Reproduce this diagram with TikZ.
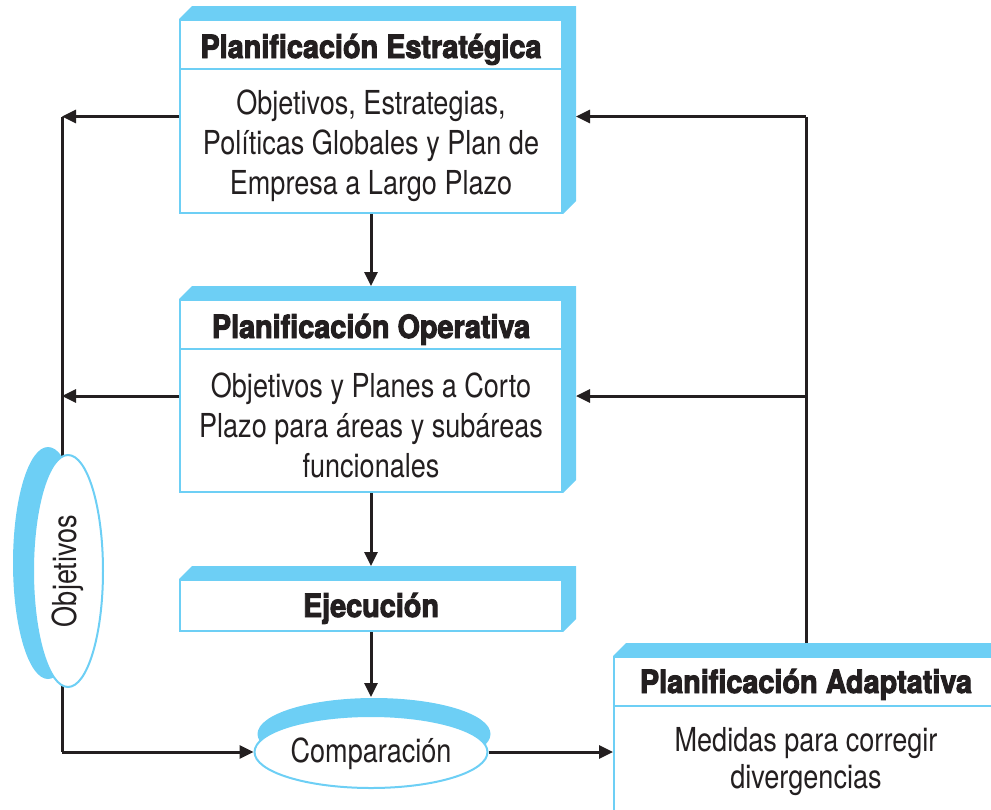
\documentclass[tikz,border=0pt]{standalone}
\usepackage{fontspec}
\setmainfont{TeX Gyre Heros}[FakeStretch=0.82]
\newfontfamily\titlefont{TeX Gyre Heros}[FakeStretch=0.90,FakeBold=3]
\usetikzlibrary{arrows.meta,shapes.geometric}
\definecolor{sky}{RGB}{109,207,245}
\definecolor{ink}{RGB}{35,31,32}
\tikzset{
  front/.style={draw=sky, line width=2pt, fill=white, inner sep=0pt},
  ttl/.style={font=\titlefont\bfseries\fontsize{32}{36}\selectfont, text=ink, anchor=base, inner sep=0pt},
  bodytxt/.style={font=\fontsize{33}{40}\selectfont, text=ink, align=center, inner sep=0pt},
  conn/.style={draw=ink, line width=3pt},
  arr/.style={conn, -{Triangle[length=14pt,width=13pt]}},
  sepline/.style={draw=sky, line width=2pt},
}
\newcommand\extrude[1]{%
  \fill[sky] (#1.north west) -- ++(13,-13) -| ([shift={(13,-13)}]#1.south east)
    -- (#1.south east) -- (#1.north east) -- cycle;}
\begin{document}
\begin{tikzpicture}[x=1pt,y=-1pt]
\useasboundingbox (0,0) rectangle (991,809);
\clip (0,0) rectangle (991,809);
% coordinates for connectors
\coordinate (lt) at (62,116.5);
\coordinate (lm) at (62,396);
\coordinate (lb) at (62,752);
\coordinate (rt) at (806,116.5);
\coordinate (rm) at (806,396);
\draw[conn] (lt) -- (lb);
% Objetivos ellipse
\fill[sky] (48,563) ellipse [x radius=35, y radius=116];
\node[front, ellipse, minimum width=70, minimum height=232] (obj) at (68,571) {};
\node[bodytxt, rotate=90] (objt) at (obj.center) {Objetivos};
% Comparacion ellipse
\fill[sky] (374,734) ellipse [x radius=116.5, y radius=36];
\node[front, ellipse, minimum width=233, minimum height=72] (comp) at (371,752) {};
\node[bodytxt, anchor=base] (compt) at (371,762) {Comparación};
% boxes
\node[front, minimum width=382, minimum height=193] (pe) at (371,116.5) {};
\extrude{pe}
\draw[sepline] ([yshift=-50pt]pe.north west) -- ([yshift=-50pt]pe.north east);
\node[ttl] (pet) at (371,58) {Planificación Estratégica};
\node[bodytxt] (peb) at (371,146) {Objetivos, Estrategias,\\Políticas Globales y Plan de\\Empresa a Largo Plazo};

\node[front, minimum width=382, minimum height=192] (po) at (371,396) {};
\extrude{po}
\draw[sepline] ([yshift=-50pt]po.north west) -- ([yshift=-50pt]po.north east);
\node[ttl] (pot) at (371,338) {Planificación Operativa};
\node[bodytxt] (pob) at (371,425.5) {Objetivos y Planes a Corto\\Plazo para áreas y subáreas\\funcionales};

\node[front, minimum width=382, minimum height=51] (ej) at (371,605.5) {};
\extrude{ej}
\node[ttl] (ejt) at (371,617) {Ejecución};

\node[front, minimum width=384, minimum height=193] (pa) at (806,753.5) {};
\extrude{pa}
\draw[sepline] ([yshift=-50pt]pa.north west) -- ([yshift=-50pt]pa.north east);
\node[ttl] (pat) at (806,693) {Planificación Adaptativa};
\node[bodytxt, font=\fontsize{33}{37}\selectfont] (pab) at (806,761.5) {Medidas para corregir\\divergencias};
% connectors
\draw[arr] (pe.west) -- (lt);
\draw[arr] (po.west) -- (lm);
\draw[arr] (lb) -- (comp.west);
\draw[arr] (comp.east) -- (comp.east -| pa.west);
\draw[arr] (pe.south) -- ([yshift=13pt]po.north);
\draw[arr] (po.south) -- ([yshift=13pt]ej.north);
\draw[arr] (ej.south) -- ([yshift=18pt]comp.north);
\draw[conn] ([yshift=13pt]pa.north) -- (rt);
\draw[arr] (rt) -- ([xshift=13pt]pe.east);
\draw[arr] (rm) -- ([xshift=13pt]po.east);
\end{tikzpicture}
\end{document}
